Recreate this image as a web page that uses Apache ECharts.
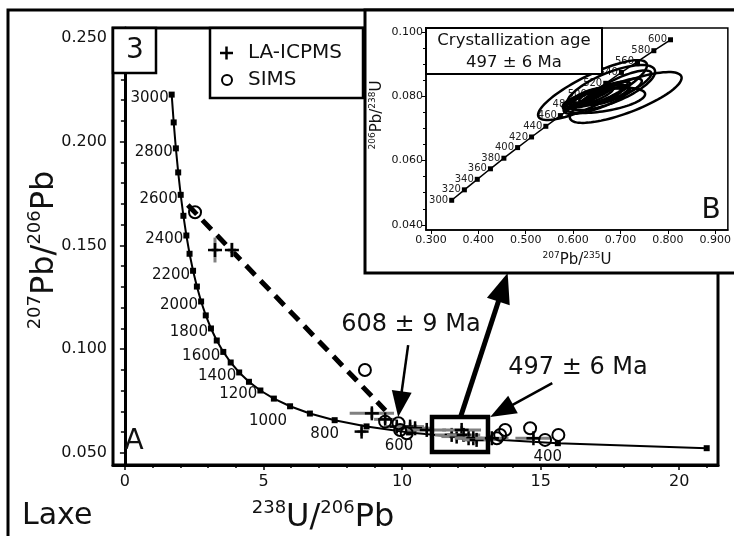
<!DOCTYPE html>
<html>
<head>
<meta charset="utf-8">
<script src="https://cdn.jsdelivr.net/npm/echarts@6/dist/echarts.min.js"></script>
<style>
  html, body { margin: 0; padding: 0; background: #fff; }
  #chart { width: 734px; height: 536px; }
</style>
</head>
<body>
<div id="chart"></div>
<script>
// ---- Tera-Wasserburg concordia (main panel), ages in Ma ----
const twAge = [3000, 2900, 2800, 2700, 2600, 2500, 2400, 2300, 2200, 2100, 2000, 1900, 1800, 1700,
  1600, 1500, 1400, 1300, 1200, 1100, 1000, 900, 800, 700, 600, 500, 400, 300];
const twU238Pb206 = [1.6874, 1.7603, 1.8384, 1.9224, 2.0129, 2.1108, 2.2170, 2.3325, 2.4586, 2.5968,
  2.7490, 2.9174, 3.1046, 3.3139, 3.5497, 3.8170, 4.1227, 4.4756, 4.8875, 5.3746, 5.9593, 6.6743,
  7.5684, 8.7183, 10.2518, 12.399, 15.621, 20.992];
const twPb207Pb206 = [0.2227, 0.2093, 0.1968, 0.1852, 0.1744, 0.1643, 0.1548, 0.1460, 0.1378, 0.1302,
  0.1230, 0.1163, 0.1100, 0.1042, 0.0987, 0.0936, 0.0888, 0.0843, 0.0801, 0.0762, 0.0725, 0.0690,
  0.0658, 0.0628, 0.0599, 0.0572, 0.0547, 0.0523];
const twLabelledAges = [3000, 2800, 2600, 2400, 2200, 2000, 1800, 1600, 1400, 1200, 1000, 800, 600, 400];

// ---- Wetherill concordia (inset), ages in Ma ----
const wAge = [300, 320, 340, 360, 380, 400, 420, 440, 460, 480, 500, 520, 540, 560, 580, 600];
const wPb207U235 = [0.3437, 0.3705, 0.3977, 0.4255, 0.4539, 0.4828, 0.5123, 0.5424, 0.5731, 0.6044,
  0.6363, 0.6688, 0.7020, 0.7359, 0.7704, 0.8056];
const wPb206U238 = [0.04764, 0.05089, 0.05416, 0.05743, 0.06072, 0.06402, 0.06732, 0.07064, 0.07397,
  0.07730, 0.08065, 0.08401, 0.08738, 0.09076, 0.09414, 0.09754];

// ---- LA-ICPMS analyses: [238U/206Pb, 207Pb/206Pb, err x, err y] ----
const laICPMS = [
  [3.25, 0.1478, 0.12, 0.0060],
  [3.86, 0.1478, 0.15, 0.0035],
  [8.54, 0.0603, 0.15, 0.0020],
  [8.91, 0.0691, 0.80, 0.0025],
  [9.39, 0.0662, 0.40, 0.0020],
  [9.81, 0.0627, 0.45, 0.0020],
  [10.29, 0.0627, 0.50, 0.0020],
  [10.47, 0.0619, 0.60, 0.0020],
  [10.89, 0.0611, 0.70, 0.0018],
  [11.79, 0.0587, 0.60, 0.0018],
  [11.97, 0.0579, 0.55, 0.0018],
  [12.15, 0.0611, 0.70, 0.0018],
  [12.22, 0.0587, 0.60, 0.0018],
  [12.40, 0.0571, 0.50, 0.0018],
  [12.57, 0.0571, 0.55, 0.0018],
  [12.69, 0.0563, 0.50, 0.0018],
  [13.24, 0.0571, 0.60, 0.0018],
  [14.74, 0.0571, 0.65, 0.0018]
];

// ---- SIMS analyses: [238U/206Pb, 207Pb/206Pb] ----
const sims = [
  [2.53, 0.1660], [8.66, 0.0900], [9.39, 0.0651], [9.87, 0.0643], [9.93, 0.0611], [10.17, 0.0595],
  [13.42, 0.0571], [13.54, 0.0587], [13.72, 0.0611], [14.62, 0.0619], [15.16, 0.0563], [15.64, 0.0587]
];

// ---- 608 Ma discordia through the SIMS / LA-ICPMS data ----
const discordia608 = [[2.27, 0.1695], [9.40, 0.0705]];

// ---- Inset error ellipses: [207Pb/235U, 206Pb/238U, s x, s y, rho] ----
const ellipses = [
  [0.641, 0.0819, 0.115, 0.0093, 0.83],
  [0.711, 0.0796, 0.118, 0.0079, 0.77],
  [0.680, 0.0827, 0.093, 0.0070, 0.70],
  [0.665, 0.0787, 0.087, 0.0039, 0.50],
  [0.655, 0.0805, 0.060, 0.0040, 0.85],
  [0.640, 0.0800, 0.045, 0.0030, 0.80],
  [0.670, 0.0810, 0.050, 0.0035, 0.85],
  [0.625, 0.0795, 0.040, 0.0030, 0.80],
  [0.690, 0.0815, 0.055, 0.0040, 0.80],
  [0.650, 0.0790, 0.070, 0.0045, 0.75],
  [0.615, 0.0785, 0.035, 0.0025, 0.80],
  [0.700, 0.0830, 0.065, 0.0050, 0.80],
  [0.632, 0.0802, 0.030, 0.0022, 0.85],
  [0.648, 0.0808, 0.035, 0.0024, 0.85],
  [0.662, 0.0798, 0.040, 0.0026, 0.80],
  [0.620, 0.0792, 0.028, 0.0020, 0.85],
  [0.675, 0.0803, 0.042, 0.0028, 0.80]
];

// ---- Tick values ----
const mainXTicks = [0, 5, 10, 15, 20];
const mainXMinor = [1, 2, 3, 4, 6, 7, 8, 9, 11, 12, 13, 14, 16, 17, 18, 19, 21];
const mainYTicks = [0.05, 0.10, 0.15, 0.20, 0.25];
const mainYMinor = [0.06, 0.07, 0.08, 0.09, 0.11, 0.12, 0.13, 0.14, 0.16, 0.17, 0.18, 0.19,
  0.21, 0.22, 0.23, 0.24];
const insetXTicks = [0.3, 0.4, 0.5, 0.6, 0.7, 0.8, 0.9];
const insetYTicks = [0.04, 0.06, 0.08, 0.10];
const insetYMinor = [0.045, 0.05, 0.055, 0.065, 0.07, 0.075, 0.085, 0.09, 0.095];

const FONT = 'DejaVu Sans';
const chart = echarts.init(document.getElementById('chart'));

// concordia age label placement
function twLabel(age) {
  if (twLabelledAges.indexOf(age) < 0) return { show: false };
  if (age <= 800) return { show: true, position: 'bottom', offset: [-10, -2], formatter: String(age) };
  if (age === 1000) return { show: true, position: 'left', distance: 0, offset: [0, 15], formatter: String(age) };
  return { show: true, position: 'left', distance: 0, offset: [0, 4], formatter: String(age) };
}

function crossItem(params, api) {
  const c = api.coord([api.value(0), api.value(1)]);
  const s = api.size([api.value(2), api.value(3)]);
  const arm = 7;
  return {
    type: 'group',
    children: [
      { type: 'line', shape: { x1: c[0] - s[0], y1: c[1], x2: c[0] + s[0], y2: c[1] }, style: { stroke: '#808080', lineWidth: 3 } },
      { type: 'line', shape: { x1: c[0], y1: c[1] - s[1], x2: c[0], y2: c[1] + s[1] }, style: { stroke: '#808080', lineWidth: 3 } },
      { type: 'line', shape: { x1: c[0] - arm, y1: c[1], x2: c[0] + arm, y2: c[1] }, style: { stroke: '#000', lineWidth: 2.5 } },
      { type: 'line', shape: { x1: c[0], y1: c[1] - arm, x2: c[0], y2: c[1] + arm }, style: { stroke: '#000', lineWidth: 2.5 } }
    ]
  };
}

function ellipseItem(params, api) {
  const cx = api.value(0), cy = api.value(1), sx = api.value(2), sy = api.value(3), r = api.value(4);
  const k = Math.sqrt(1 - r * r);
  const pts = [];
  for (let i = 0; i < 90; i++) {
    const t = i / 90 * Math.PI * 2;
    pts.push(api.coord([cx + sx * Math.cos(t), cy + sy * (r * Math.cos(t) + k * Math.sin(t))]));
  }
  return { type: 'polygon', shape: { points: pts }, style: { fill: 'none', stroke: '#000', lineWidth: 2.5 } };
}

const axisText = { fontFamily: FONT, color: '#111' };

const option = {
  animation: false,
  backgroundColor: '#fff',
  grid: [
    { left: 113, top: 28, width: 605, height: 437, show: true, borderColor: '#000', borderWidth: 3, z: 0 },
    { left: 426, top: 28, width: 302, height: 202, show: true, borderColor: '#000', borderWidth: 1.5, z: 11 }
  ],
  xAxis: [
    { gridIndex: 0, type: 'value', position: 'bottom', min: -0.43, max: 21.4, splitLine: { show: false },
      axisLine: { lineStyle: { color: '#000', width: 3 } },
      axisTick: { customValues: mainXTicks, length: 5, lineStyle: { color: '#000', width: 1.5 } },
      axisLabel: { customValues: mainXTicks, margin: 9, fontSize: 16, ...axisText } },
    { gridIndex: 0, type: 'value', position: 'bottom', min: -0.43, max: 21.4, splitLine: { show: false },
      axisLine: { show: false },
      axisTick: { customValues: mainXMinor, length: 3, lineStyle: { color: '#000', width: 1.5 } },
      axisLabel: { show: false } },
    { gridIndex: 1, type: 'value', position: 'bottom', min: 0.2895, max: 0.9266, splitLine: { show: false }, z: 11,
      axisLine: { lineStyle: { color: '#000', width: 1.5 } },
      axisTick: { customValues: insetXTicks, length: 4, lineStyle: { color: '#000', width: 1 } },
      axisLabel: { customValues: insetXTicks, margin: 5, fontSize: 11, formatter: v => v.toFixed(3), ...axisText } }
  ],
  yAxis: [
    { gridIndex: 0, type: 'value', position: 'left', min: 0.0442, max: 0.2548, splitLine: { show: false },
      axisLine: { lineStyle: { color: '#000', width: 3 } },
      axisTick: { customValues: mainYTicks, length: 5, lineStyle: { color: '#000', width: 1.5 } },
      axisLabel: { customValues: mainYTicks, margin: 6, fontSize: 16, formatter: v => v.toFixed(3), ...axisText } },
    { gridIndex: 0, type: 'value', position: 'left', min: 0.0442, max: 0.2548, splitLine: { show: false },
      axisLine: { show: false },
      axisTick: { customValues: mainYMinor, length: 4, lineStyle: { color: '#000', width: 1.5 } },
      axisLabel: { show: false } },
    { gridIndex: 1, type: 'value', position: 'left', min: 0.0384, max: 0.1012, splitLine: { show: false }, z: 11,
      axisLine: { lineStyle: { color: '#000', width: 1.5 } },
      axisTick: { customValues: insetYTicks, length: 4, lineStyle: { color: '#000', width: 1 } },
      axisLabel: { customValues: insetYTicks, margin: 3, fontSize: 11, formatter: v => v.toFixed(3), ...axisText } },
    { gridIndex: 1, type: 'value', position: 'left', min: 0.0384, max: 0.1012, splitLine: { show: false }, z: 11,
      axisLine: { show: false },
      axisTick: { customValues: insetYMinor, length: 3, lineStyle: { color: '#000', width: 1 } },
      axisLabel: { show: false } }
  ],
  series: [
    { type: 'line', xAxisIndex: 0, yAxisIndex: 0, z: 3, silent: true,
      data: discordia608,
      symbol: 'none', lineStyle: { color: '#000', width: 5, type: [13, 8] } },
    { type: 'line', xAxisIndex: 0, yAxisIndex: 0, z: 4,
      data: twAge.map((a, i) => ({ value: [twU238Pb206[i], twPb207Pb206[i]], label: twLabel(a) })),
      symbol: 'rect', symbolSize: 6, itemStyle: { color: '#000' },
      lineStyle: { color: '#000', width: 2 },
      label: { fontFamily: FONT, fontSize: 15, color: '#111' } },
    { type: 'custom', xAxisIndex: 0, yAxisIndex: 0, z: 5, renderItem: crossItem,
      encode: { x: 0, y: 1 }, data: laICPMS },
    { type: 'scatter', xAxisIndex: 0, yAxisIndex: 0, z: 6, data: sims,
      symbol: 'circle', symbolSize: 12,
      itemStyle: { color: 'rgba(255,255,255,0)', borderColor: '#000', borderWidth: 2, opacity: 1 } },
    { type: 'line', xAxisIndex: 2, yAxisIndex: 2, z: 12,
      data: wAge.map((a, i) => ({ value: [wPb207U235[i], wPb206U238[i]] })),
      symbol: 'rect', symbolSize: 5, itemStyle: { color: '#000' },
      lineStyle: { color: '#000', width: 1.5 },
      label: { show: true, position: 'left', distance: 1, fontFamily: FONT, fontSize: 10, color: '#222',
        formatter: p => String(wAge[p.dataIndex]) } },
    { type: 'custom', xAxisIndex: 2, yAxisIndex: 2, z: 13, renderItem: ellipseItem,
      encode: { x: 0, y: 1 }, data: ellipses }
  ]
};
chart.setOption(option);

// ---- annotation layer ----
function px(p) { return chart.convertToPixel({ xAxisIndex: 0, yAxisIndex: 0 }, p); }

function arrow(p0, p1, lw, hl, hw, z) {
  const dx = p1[0] - p0[0], dy = p1[1] - p0[1], L = Math.hypot(dx, dy);
  const ux = dx / L, uy = dy / L;
  const bx = p1[0] - ux * hl, by = p1[1] - uy * hl;
  return [
    { type: 'line', z, shape: { x1: p0[0], y1: p0[1], x2: bx + ux * 2, y2: by + uy * 2 },
      style: { stroke: '#000', lineWidth: lw } },
    { type: 'polygon', z, shape: { points: [[p1[0], p1[1]], [bx - uy * hw, by + ux * hw], [bx + uy * hw, by - ux * hw]] },
      style: { fill: '#000' } }
  ];
}

function supLabel(x, y, text, big, small, rot, z) {
  return {
    type: 'text', x, y, rotation: rot, z,
    style: {
      text, x: 0, y: 0, align: 'center', verticalAlign: 'middle',
      rich: {
        n: { fontFamily: FONT, fontSize: big, lineHeight: big * 1.15, fill: '#111' },
        s: { fontFamily: FONT, fontSize: small, verticalAlign: 'top', fill: '#111' }
      }
    }
  };
}

function plainText(x, y, text, size, z, align) {
  return { type: 'text', x, y, z,
    style: { text, x: 0, y: 0, align: align || 'center', verticalAlign: 'middle',
      fontFamily: FONT, fontSize: size, fill: '#111' } };
}

const boxTL = px([11.08, 0.0673]);
const boxBR = px([13.10, 0.0505]);

const g = [
  // outer figure frame
  { type: 'rect', z: 0, shape: { x: 8, y: 10, width: 800, height: 600 }, style: { fill: 'none', stroke: '#000', lineWidth: 3 } },
  // panel number box
  { type: 'rect', z: 7, shape: { x: 113, y: 28, width: 43, height: 45 }, style: { fill: '#fff', stroke: '#000', lineWidth: 2.5 } },
  plainText(135, 51, '3', 28, 8),
  // legend
  { type: 'rect', z: 7, shape: { x: 210, y: 28, width: 153, height: 70 }, style: { fill: '#fff', stroke: '#000', lineWidth: 2.5 } },
  { type: 'line', z: 8, shape: { x1: 220, y1: 53, x2: 233, y2: 53 }, style: { stroke: '#000', lineWidth: 2.5 } },
  { type: 'line', z: 8, shape: { x1: 226.5, y1: 46.5, x2: 226.5, y2: 59.5 }, style: { stroke: '#000', lineWidth: 2.5 } },
  { type: 'circle', z: 8, shape: { cx: 227, cy: 80, r: 5 }, style: { fill: 'none', stroke: '#000', lineWidth: 2 } },
  plainText(248, 53, 'LA-ICPMS', 20, 8, 'left'),
  plainText(248, 80, 'SIMS', 20, 8, 'left'),
  // panel letters and sample name
  plainText(134, 442, 'A', 28, 8),
  plainText(22, 516, 'Laxe', 30, 8, 'left'),
  // main axis names
  supLabel(45, 250, '{s|207}{n|Pb/}{s|206}{n|Pb}', 32, 18, Math.PI / 2, 8),
  supLabel(323, 518, '{s|238}{n|U/}{s|206}{n|Pb}', 32, 18, 0, 8),
  // age annotations
  plainText(px([10.32, 0.1117])[0], px([10.32, 0.1117])[1], '608 \u00b1 9 Ma', 24, 8),
  plainText(px([16.35, 0.0910])[0], px([16.35, 0.0910])[1], '497 \u00b1 6 Ma', 24, 8),
  ...arrow(px([10.22, 0.1020]), px([9.86, 0.0673]), 2.5, 26, 10, 8),
  ...arrow(px([15.42, 0.0837]), px([13.18, 0.0673]), 2.5, 26, 10, 8),
  // selection box around the young cluster
  { type: 'rect', z: 8, shape: { x: boxTL[0], y: boxTL[1], width: boxBR[0] - boxTL[0], height: boxBR[1] - boxTL[1] },
    style: { fill: 'none', stroke: '#000', lineWidth: 4.5 } },
  // inset background and frame
  { type: 'rect', z: 10, shape: { x: 365, y: 10, width: 420, height: 263 }, style: { fill: '#fff', stroke: '#000', lineWidth: 3 } },
  // inset labels
  { type: 'rect', z: 14, shape: { x: 426, y: 28, width: 176, height: 46 }, style: { fill: '#fff', stroke: '#000', lineWidth: 2 } },
  plainText(514, 41, 'Crystallization age', 16.5, 15),
  plainText(514, 63, '497 \u00b1 6 Ma', 16.5, 15),
  plainText(711, 211, 'B', 28, 15),
  supLabel(377, 115, '{s|206}{n|Pb/}{s|238}{n|U}', 15, 9, Math.PI / 2, 15),
  supLabel(577, 260, '{s|207}{n|Pb/}{s|235}{n|U}', 15, 9, 0, 15),
  // link arrow to the inset
  ...arrow(px([12.11, 0.0673]), px([13.81, 0.1367]), 5, 30, 12, 16)
];
chart.setOption({ graphic: { elements: g } });
</script>
</body>
</html>
